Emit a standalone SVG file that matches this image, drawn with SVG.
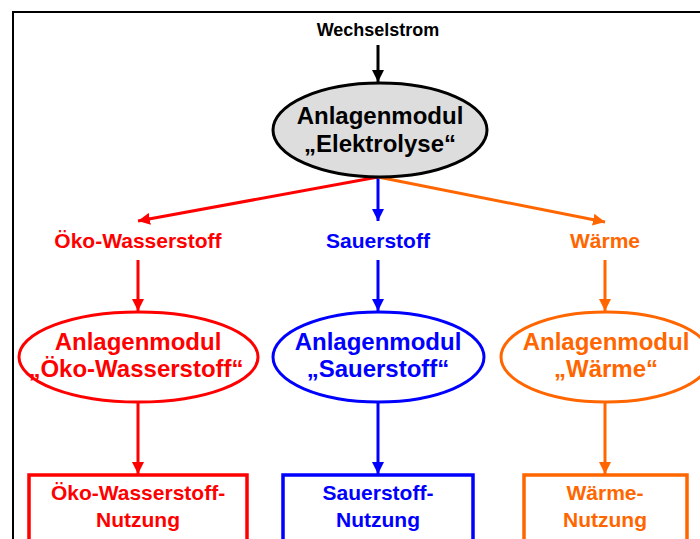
<svg xmlns="http://www.w3.org/2000/svg" width="700" height="539" viewBox="0 0 700 539">
  <style>
    text { font-family: "Liberation Sans", Arial, sans-serif; font-weight: bold; text-anchor: middle; }
    .t18 { font-size: 18px; }
    .t21 { font-size: 21px; }
    .t24 { font-size: 24px; }
    .red { fill: #FF0000; }
    .blue { fill: #0000FF; }
    .orange { fill: #FF6600; }
    .black { fill: #000000; }
    .box { fill: #FFFFFF; stroke-width: 3.5; }
    .oval { fill: #FFFFFF; stroke-width: 3; }
    .edge { fill: none; stroke-width: 3; }
  </style>
  <defs>
    <marker id="ahBlack" markerUnits="userSpaceOnUse" markerWidth="12" markerHeight="12" viewBox="0 0 12 12" refX="12" refY="6" orient="auto">
      <path d="M0,0 L12,6 L0,12 Z" fill="#000000"/>
    </marker>
    <marker id="ahRed" markerUnits="userSpaceOnUse" markerWidth="12" markerHeight="12" viewBox="0 0 12 12" refX="12" refY="6" orient="auto">
      <path d="M0,0 L12,6 L0,12 Z" fill="#FF0000"/>
    </marker>
    <marker id="ahBlue" markerUnits="userSpaceOnUse" markerWidth="12" markerHeight="12" viewBox="0 0 12 12" refX="12" refY="6" orient="auto">
      <path d="M0,0 L12,6 L0,12 Z" fill="#0000FF"/>
    </marker>
    <marker id="ahOrange" markerUnits="userSpaceOnUse" markerWidth="12" markerHeight="12" viewBox="0 0 12 12" refX="12" refY="6" orient="auto">
      <path d="M0,0 L12,6 L0,12 Z" fill="#FF6600"/>
    </marker>
  </defs>

  <rect width="700" height="539" fill="#FFFFFF"/>
  <!-- outer frame -->
  <rect x="13" y="12" width="700" height="540" fill="none" stroke="#000000" stroke-width="2"/>

  <!-- connectors -->
  <g id="connectors">
    <line class="edge" x1="378" y1="45" x2="378" y2="82" stroke="#000000" marker-end="url(#ahBlack)"/>
    <line class="edge" x1="378" y1="177" x2="138" y2="221" stroke="#FF0000" marker-end="url(#ahRed)"/>
    <line class="edge" x1="378" y1="177" x2="378" y2="221" stroke="#0000FF" marker-end="url(#ahBlue)"/>
    <line class="edge" x1="378" y1="177" x2="605" y2="222" stroke="#FF6600" marker-end="url(#ahOrange)"/>
    <line class="edge" x1="138" y1="260" x2="138" y2="311" stroke="#FF0000" marker-end="url(#ahRed)"/>
    <line class="edge" x1="378" y1="260" x2="378" y2="311" stroke="#0000FF" marker-end="url(#ahBlue)"/>
    <line class="edge" x1="605" y1="260" x2="605" y2="311" stroke="#FF6600" marker-end="url(#ahOrange)"/>
    <line class="edge" x1="138" y1="402" x2="138" y2="474" stroke="#FF0000" marker-end="url(#ahRed)"/>
    <line class="edge" x1="378" y1="402" x2="378" y2="474" stroke="#0000FF" marker-end="url(#ahBlue)"/>
    <line class="edge" x1="605" y1="402" x2="605" y2="474" stroke="#FF6600" marker-end="url(#ahOrange)"/>
  </g>

  <!-- input -->
  <g id="wechselstrom">
    <text class="t18 black" x="378" y="36">Wechselstrom</text>
  </g>

  <!-- electrolysis module -->
  <g id="elektrolyse">
    <ellipse cx="380" cy="130" rx="107" ry="47" fill="#DDDDDD" stroke="#000000" stroke-width="3"/>
    <text class="t24 black" x="380" y="124">Anlagenmodul</text>
    <text class="t24 black" x="380" y="152">„Elektrolyse“</text>
  </g>

  <!-- product labels -->
  <g id="label-wasserstoff">
    <text class="t21 red" x="138" y="248">Öko-Wasserstoff</text>
  </g>
  <g id="label-sauerstoff">
    <text class="t21 blue" x="378" y="248">Sauerstoff</text>
  </g>
  <g id="label-waerme">
    <text class="t21 orange" x="605" y="248">Wärme</text>
  </g>

  <!-- second-level modules -->
  <g id="modul-wasserstoff">
    <ellipse class="oval" cx="138.5" cy="357" rx="119.5" ry="45" stroke="#FF0000"/>
    <text class="t24 red" x="138" y="350">Anlagenmodul</text>
    <text class="t24 red" x="136" y="377">„Öko-Wasserstoff“</text>
  </g>
  <g id="modul-sauerstoff">
    <ellipse class="oval" cx="378.5" cy="357" rx="105.5" ry="45" stroke="#0000FF"/>
    <text class="t24 blue" x="378" y="350">Anlagenmodul</text>
    <text class="t24 blue" x="378" y="377">„Sauerstoff“</text>
  </g>
  <g id="modul-waerme">
    <ellipse class="oval" cx="606" cy="357" rx="105" ry="45" stroke="#FF6600"/>
    <text class="t24 orange" x="606" y="350">Anlagenmodul</text>
    <text class="t24 orange" x="606" y="377">„Wärme“</text>
  </g>

  <!-- usage boxes -->
  <g id="nutzung-wasserstoff">
    <rect class="box" x="29" y="475" width="218" height="80" stroke="#FF0000"/>
    <text class="t21 red" x="138" y="500">Öko-Wasserstoff-</text>
    <text class="t21 red" x="138" y="527">Nutzung</text>
  </g>
  <g id="nutzung-sauerstoff">
    <rect class="box" x="283" y="475" width="190" height="80" stroke="#0000FF"/>
    <text class="t21 blue" x="378" y="500">Sauerstoff-</text>
    <text class="t21 blue" x="378" y="527">Nutzung</text>
  </g>
  <g id="nutzung-waerme">
    <rect class="box" x="524" y="475" width="163" height="80" stroke="#FF6600"/>
    <text class="t21 orange" x="605" y="500">Wärme-</text>
    <text class="t21 orange" x="605" y="527">Nutzung</text>
  </g>
</svg>
